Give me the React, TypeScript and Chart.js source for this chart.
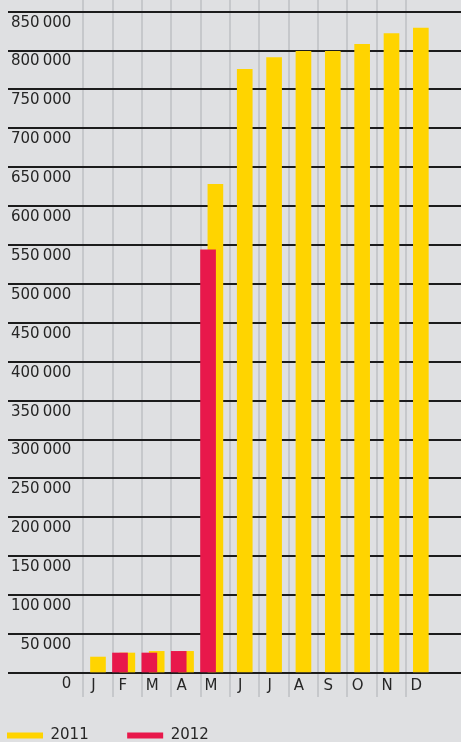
import React, { useEffect, useRef } from 'react';
import { Chart, registerables } from 'chart.js';

Chart.register(...registerables);

// ---- data ----
const MONTHS = ['J', 'F', 'M', 'A', 'M', 'J', 'J', 'A', 'S', 'O', 'N', 'D'];
const VALUES_2011 = [20500, 25700, 27800, 27800, 628000, 776000, 791000, 799000, 799000, 808000, 822000, 829000];
const VALUES_2012: (number | null)[] = [null, 25700, 25700, 27800, 544000, null, null, null, null, null, null, null];
const SERIES_LABELS = ['2011', '2012'];
const Y_TICK_STEP = 50000;
const Y_TICK_LAST = 850000;
const Y_TICKS = Array.from({ length: Y_TICK_LAST / Y_TICK_STEP + 1 }, (_, i) => i * Y_TICK_STEP);

// ---- style ----
const FONT = '"DejaVu Sans", sans-serif';
const TEXT = '#262626';
const BG = '#dfe0e2';
const YELLOW = '#ffd400';
const RED = '#e8184b';
const V_GRID = '#c6c8cb';
const H_GRID = '#1c1c1c';
const Y_MAX = 865000;
const X_MIN = -3.066;
const X_MAX = 12.368;
const RED_SHIFT = -0.25;
const CLEAR = 'rgba(0,0,0,0)';

const fmt = (v: number) => {
  if (v === 0) return '0';
  const s = String(v);
  return s.slice(0, s.length - 3) + '\u2009' + s.slice(-3);
};

const isMonthTick = (v: number) => Number.isInteger(v) && v >= 0 && v < MONTHS.length;

export default function App() {
  const ref = useRef<HTMLCanvasElement | null>(null);

  useEffect(() => {
    if (!ref.current) return;
    const chart = new Chart(ref.current, {
      type: 'bar',
      data: {
        datasets: [
          {
            label: SERIES_LABELS[0],
            data: VALUES_2011.map((v, i) => ({ x: i, y: v })),
            backgroundColor: YELLOW,
            borderWidth: 0,
            order: 2,
          },
          {
            label: SERIES_LABELS[1],
            data: VALUES_2012
              .map((v, i) => (v == null ? null : { x: i + RED_SHIFT, y: v }))
              .filter((p) => p !== null) as any,
            backgroundColor: RED,
            borderWidth: 0,
            order: 1,
          },
        ],
      },
      options: {
        responsive: false,
        animation: false,
        events: [],
        layout: { padding: { left: 0, right: 0, top: 0, bottom: -11 } },
        datasets: { bar: { grouped: false, barThickness: 15 } } as any,
        scales: {
          x: {
            type: 'linear',
            offset: false,
            min: X_MIN,
            max: X_MAX,
            afterFit: (s: any) => {
              s.paddingLeft = 0;
              s.paddingRight = 0;
              s.height = 48;
            },
            ticks: {
              stepSize: 1,
              includeBounds: false,
              maxTicksLimit: 100,
              autoSkip: false,
              maxRotation: 0,
              padding: -20,
              labelOffset: -4.5,
              color: TEXT,
              font: { family: FONT, size: 15 },
              callback: (v: any) => (isMonthTick(Number(v)) ? MONTHS[Number(v)] : ''),
            },
            grid: {
              offset: true,
              color: (c: any) => (c.tick && isMonthTick(c.tick.value) ? V_GRID : CLEAR),
              lineWidth: 2,
              tickLength: 24,
              drawTicks: true,
            },
            border: { display: false },
          },
          y: {
            min: 0,
            max: Y_MAX,
            z: 1,
            afterBuildTicks: (s: any) => {
              s.ticks = Y_TICKS.map((value) => ({ value }));
            },
            afterFit: (s: any) => {
              s.width = 8;
              s.paddingTop = 0;
              s.paddingBottom = 0;
            },
            ticks: {
              autoSkip: false,
              mirror: true,
              crossAlign: 'far',
              padding: 3,
              labelOffset: 11,
              color: TEXT,
              font: { family: FONT, size: 15 },
              callback: (v: any) => fmt(Number(v)),
            },
            grid: { color: H_GRID, lineWidth: 2, drawTicks: false },
            border: { display: false },
          },
        },
        plugins: {
          tooltip: { enabled: false },
          legend: {
            position: 'bottom',
            align: 'start',
            labels: {
              boxWidth: 36,
              boxHeight: 6,
              padding: 7,
              color: TEXT,
              font: { family: FONT, size: 15 },
              sort: (a: any, b: any) => a.datasetIndex - b.datasetIndex,
              generateLabels: (c: any) => {
                const items = Chart.defaults.plugins.legend.labels.generateLabels(c);
                return items.map((it: any) =>
                  it.datasetIndex === 0 ? { ...it, text: it.text + '\u2003\u2003\u200A' } : it
                );
              },
            },
          },
        },
      } as any,
    });
    return () => chart.destroy();
  }, []);

  return (
    <div style={{ position: 'fixed', left: 0, top: 0, width: 461, height: 742, background: BG }}>
      <canvas ref={ref} width={461} height={742} style={{ display: 'block' }} />
    </div>
  );
}
